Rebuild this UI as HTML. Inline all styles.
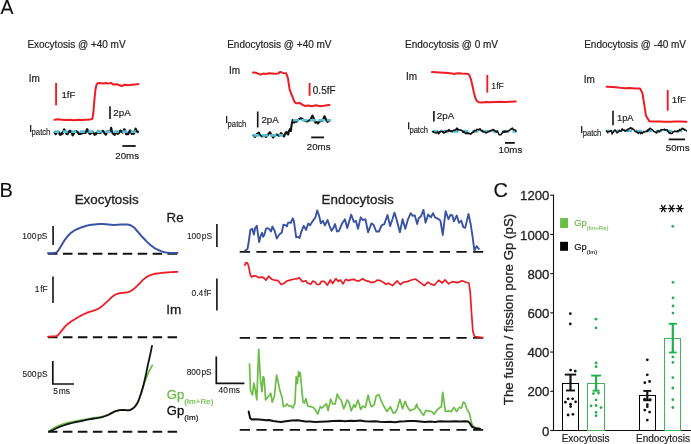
<!DOCTYPE html>
<html><head><meta charset="utf-8"><style>
html,body{margin:0;padding:0;background:#fff;}
svg{display:block;will-change:transform;font-family:"Liberation Sans", sans-serif;}
</style></head><body>
<svg width="691" height="444" viewBox="0 0 691 444">
<text x="0.46" y="14.20" font-size="19.5" fill="#111"  stroke="#111" stroke-width="0.12">A</text>
<text x="27.38" y="47.80" font-size="10" fill="#222"  stroke="#222" stroke-width="0.18">Exocytosis @ +40 mV</text>
<text x="227.18" y="47.80" font-size="10" fill="#222"  stroke="#222" stroke-width="0.18">Endocytosis @ +40 mV</text>
<text x="405.08" y="47.80" font-size="10" fill="#222"  stroke="#222" stroke-width="0.18">Endocytosis @ 0 mV</text>
<text x="584.18" y="47.80" font-size="10" fill="#222"  stroke="#222" stroke-width="0.18">Endocytosis @ -40 mV</text>
<text x="28.78" y="82.20" font-size="10" fill="#222"  stroke="#222" stroke-width="0.18">Im</text>
<line x1="56.1" y1="83" x2="56.1" y2="105.3" stroke="#ed1c24" stroke-width="1.9" />
<text x="61.46" y="97.80" font-size="9.7" fill="#222"  stroke="#222" stroke-width="0.18">1fF</text>
<polyline points="54.50,119.80 58.00,119.30 62.00,119.70 66.00,120.10 70.00,119.80 74.00,120.20 78.00,119.80 82.00,120.10 86.00,119.70 90.00,119.60 92.40,118.80 93.40,112.00 94.40,100.00 95.40,90.00 96.40,85.00 97.60,83.20 100.00,82.90 103.00,83.40 106.00,83.00 108.00,83.60 111.00,82.90 113.30,84.60 117.50,84.30 121.50,86.00 125.00,84.70 128.00,85.30 132.00,84.80 135.00,84.40 138.40,84.10" fill="none" stroke="#ed1c24" stroke-width="2.0" stroke-linejoin="round" stroke-linecap="round" />
<line x1="110" y1="106.2" x2="110" y2="119" stroke="#111" stroke-width="1.6" />
<text x="113.31" y="116.00" font-size="9.8" fill="#222"  stroke="#222" stroke-width="0.18">2pA</text>
<rect x="30" y="125.00" width="1.3" height="7" fill="#222"/>
<text transform="translate(31.60,135.2) scale(0.800,1)" font-size="9.6" fill="#222" stroke="#222" stroke-width="0.18">patch</text>
<polyline points="54.60,132.52 55.10,133.38 55.60,134.13 56.10,133.77 56.60,132.53 57.10,132.13 57.60,131.68 58.10,131.70 58.60,131.72 59.10,132.38 59.60,134.16 60.10,134.78 60.60,134.83 61.10,134.27 61.60,133.28 62.10,132.58 62.60,133.73 63.10,131.92 63.60,130.52 64.10,129.32 64.60,129.60 65.10,130.82 65.60,131.85 66.10,133.12 66.60,133.78 67.10,134.21 67.60,134.16 68.10,133.53 68.60,131.89 69.10,132.00 69.60,130.85 70.10,130.95 70.60,130.88 71.10,132.01 71.60,132.61 72.10,133.55 72.60,135.45 73.10,134.62 73.60,134.32 74.10,132.98 74.60,132.37 75.10,131.96 75.60,131.21 76.10,131.05 76.60,131.49 77.10,131.47 77.60,132.52 78.10,132.43 78.60,133.81 79.10,133.37 79.60,133.99 80.10,133.96 80.60,134.02 81.10,133.12 81.60,133.35 82.10,132.70 82.60,133.19 83.10,133.06 83.60,132.80 84.10,132.31 84.60,132.86 85.10,132.89 85.60,132.99 86.10,131.15 86.60,130.26 87.10,129.21 87.60,129.77 88.10,131.00 88.60,132.45 89.10,133.35 89.60,133.44 90.10,133.87 90.60,133.57 91.10,133.24 91.60,132.28 92.10,131.60 92.60,131.94 93.10,132.56 93.60,133.17 94.10,133.91 94.60,134.78 95.10,134.20 95.60,133.44 96.10,134.16 96.60,133.02 97.10,132.45 97.60,132.01 98.10,130.87 98.60,132.61 99.10,133.12 99.60,132.85 100.10,133.06 100.60,132.80 101.10,132.12 101.60,131.61 102.10,131.18 102.60,130.90 103.10,130.98 103.60,131.37 104.10,132.79 104.60,133.12 105.10,134.02 105.60,134.73 106.10,134.45 106.60,132.77 107.10,131.97 107.60,131.59 108.10,131.15 108.60,132.15 109.10,131.67 109.60,131.90 110.10,131.35 110.60,130.00 111.10,127.83 111.60,129.60 112.10,131.94 112.60,133.21 113.10,133.60 113.60,134.01 114.10,134.56 114.60,134.87 115.10,133.48 115.60,132.22 116.10,132.20 116.60,132.28 117.10,133.70 117.60,133.48 118.10,133.64 118.60,133.34 119.10,132.89 119.60,131.77 120.10,130.88 120.60,130.42 121.10,131.22 121.60,131.92 122.10,132.23 122.60,132.53 123.10,131.19 123.60,130.53 124.10,129.25 124.60,129.22 125.10,130.66 125.60,132.35 126.10,134.11 126.60,134.00 127.10,134.21 127.60,133.26 128.10,134.02 128.60,133.48 129.10,131.90 129.60,131.02 130.10,130.28 130.60,131.28 131.10,132.12 131.60,133.89 132.10,133.83 132.60,133.51 133.10,132.77 133.60,133.89 134.10,133.46 134.60,131.34 135.10,130.38 135.60,128.52 136.10,129.91 136.60,130.66 137.10,131.47 137.60,132.21 138.10,131.66" fill="none" stroke="#111" stroke-width="2.1" stroke-linejoin="round" stroke-linecap="round" />
<line x1="54.3" y1="131.6" x2="138.3" y2="131.6" stroke="#4fc3dc" stroke-width="2.6" stroke-dasharray="5 3.5"/>
<line x1="122.4" y1="146" x2="135.7" y2="146" stroke="#111" stroke-width="1.8" />
<text x="115.31" y="159.40" font-size="9.7" fill="#222"  stroke="#222" stroke-width="0.18">20ms</text>
<text x="228.98" y="73.50" font-size="10" fill="#222"  stroke="#222" stroke-width="0.18">Im</text>
<polyline points="253.00,72.60 256.00,72.80 258.00,73.60 260.50,74.60 263.00,73.60 266.00,74.00 269.00,73.20 272.00,73.50 275.00,73.80 278.00,73.60 280.20,71.90 283.00,72.90 286.20,73.30 287.90,78.00 289.60,89.30 291.30,93.80 294.60,102.20 296.30,103.30 299.70,102.90 302.00,104.50 304.80,105.90 308.00,105.50 312.00,106.20 316.00,105.30 320.00,106.30 324.00,105.80 327.00,105.30 329.50,105.00" fill="none" stroke="#ed1c24" stroke-width="2.0" stroke-linejoin="round" stroke-linecap="round" />
<line x1="309.6" y1="83" x2="309.6" y2="95.8" stroke="#ed1c24" stroke-width="1.9" />
<text x="312.81" y="93.80" font-size="10" fill="#222"  stroke="#222" stroke-width="0.18">0.5fF</text>
<rect x="226" y="116.10" width="1.3" height="7" fill="#222"/>
<text transform="translate(227.60,126.6) scale(0.800,1)" font-size="9.6" fill="#222" stroke="#222" stroke-width="0.18">patch</text>
<line x1="257.7" y1="111.5" x2="257.7" y2="127.5" stroke="#111" stroke-width="1.6" />
<text x="261.41" y="122.80" font-size="9.8" fill="#222"  stroke="#222" stroke-width="0.18">2pA</text>
<polyline points="253.50,135.50 255.00,137.00 256.50,134.50 258.80,132.50 260.00,135.00 262.00,136.50 264.00,135.50 266.00,137.00 268.00,134.50 270.00,132.20 271.50,135.00 273.00,137.50 275.00,135.50 277.00,134.50 279.00,136.00 281.00,133.00 282.50,135.00 284.00,136.50 285.50,133.00 286.50,131.80 287.30,133.50 288.20,134.50 289.00,131.00 290.00,129.00 290.80,131.00 291.60,125.00 292.60,120.00 293.40,121.00 294.20,122.60 295.20,121.50 296.50,121.80 298.00,120.00 299.50,118.80 301.00,118.20 302.50,119.00 304.00,120.20 305.50,121.00 307.00,121.50 309.00,120.50 310.50,119.50 311.70,117.00 312.50,115.60 313.50,118.00 314.50,121.00 315.50,122.70 317.00,122.00 318.00,123.40 319.50,121.50 321.00,121.00 322.50,120.50 323.50,118.50 324.50,116.30 325.50,118.50 326.50,120.50 327.50,122.00 328.50,121.00 330.00,120.50" fill="none" stroke="#111" stroke-width="2.1" stroke-linejoin="round" stroke-linecap="round" />
<line x1="253.3" y1="135.4" x2="283" y2="135.4" stroke="#4fc3dc" stroke-width="2.6" stroke-dasharray="6 2.5"/>
<line x1="293" y1="120.2" x2="331" y2="120.2" stroke="#4fc3dc" stroke-width="2.6" stroke-dasharray="6 2.5"/>
<line x1="311.2" y1="137.4" x2="324" y2="137.4" stroke="#111" stroke-width="1.8" />
<text x="306.81" y="150.40" font-size="9.7" fill="#222"  stroke="#222" stroke-width="0.18">20ms</text>
<text x="406.08" y="79.70" font-size="10" fill="#222"  stroke="#222" stroke-width="0.18">Im</text>
<polyline points="432.00,72.10 436.00,72.30 440.00,72.50 444.00,72.70 448.00,73.00 452.00,73.40 454.00,74.00 456.00,73.60 458.50,73.30 462.00,73.60 466.00,73.70 468.40,74.00 469.80,76.00 471.00,79.50 472.50,86.00 474.00,93.00 475.50,98.50 477.00,101.00 478.60,102.20 482.00,102.40 486.00,102.10 490.00,102.30 495.00,102.00 500.00,101.80 505.00,102.10 510.00,101.70 515.70,101.60" fill="none" stroke="#ed1c24" stroke-width="2.0" stroke-linejoin="round" stroke-linecap="round" />
<line x1="487.3" y1="74.9" x2="487.3" y2="92.6" stroke="#ed1c24" stroke-width="1.9" />
<text x="491.34" y="88.70" font-size="8.7" fill="#222"  stroke="#222" stroke-width="0.12">1fF</text>
<rect x="408" y="122.30" width="1.3" height="7" fill="#222"/>
<text transform="translate(409.41,132.7) scale(0.791,1)" font-size="9.6" fill="#222" stroke="#222" stroke-width="0.18">patch</text>
<line x1="433.9" y1="110.9" x2="433.9" y2="121.6" stroke="#111" stroke-width="1.6" />
<text x="436.81" y="119.20" font-size="9.8" fill="#222"  stroke="#222" stroke-width="0.18">2pA</text>
<line x1="432.4" y1="131.4" x2="516.3" y2="131.4" stroke="#4fc3dc" stroke-width="2.6" stroke-dasharray="6 4"/>
<polyline points="432.50,131.72 433.00,131.84 433.50,131.51 434.00,132.48 434.50,132.63 435.00,132.75 435.50,132.60 436.00,133.07 436.50,132.78 437.00,132.70 437.50,131.91 438.00,131.95 438.50,133.97 439.00,133.63 439.50,131.63 440.00,132.44 440.50,131.61 441.00,131.11 441.50,131.50 442.00,131.31 442.50,131.86 443.00,132.56 443.50,131.82 444.00,133.13 444.50,132.68 445.00,132.56 445.50,131.50 446.00,131.11 446.50,131.87 447.00,130.89 447.50,130.46 448.00,130.67 448.50,131.21 449.00,129.59 449.50,130.97 450.00,130.96 450.50,131.34 451.00,130.62 451.50,131.04 452.00,131.81 452.50,131.18 453.00,130.60 453.50,130.37 454.00,130.10 454.50,130.49 455.00,130.20 455.50,129.57 456.00,129.72 456.50,128.65 457.00,128.01 457.50,129.73 458.00,128.97 458.50,129.98 459.00,129.70 459.50,129.73 460.00,130.26 460.50,129.93 461.00,129.98 461.50,130.47 462.00,130.72 462.50,131.51 463.00,132.54 463.50,131.57 464.00,131.55 464.50,132.51 465.00,132.89 465.50,133.46 466.00,132.88 466.50,133.44 467.00,133.44 467.50,132.77 468.00,133.60 468.50,132.94 469.00,133.70 469.50,133.40 470.00,133.29 470.50,134.23 471.00,134.09 471.50,133.34 472.00,132.91 472.50,132.05 473.00,132.55 473.50,132.26 474.00,131.27 474.50,130.37 475.00,130.70 475.50,130.55 476.00,130.78 476.50,129.74 477.00,129.26 477.50,129.56 478.00,129.39 478.50,129.71 479.00,129.97 479.50,129.29 480.00,128.64 480.50,129.94 481.00,130.33 481.50,131.18 482.00,130.19 482.50,131.17 483.00,131.68 483.50,131.59 484.00,132.11 484.50,132.12 485.00,132.19 485.50,132.72 486.00,132.88 486.50,132.84 487.00,132.35 487.50,131.97 488.00,131.94 488.50,131.70 489.00,131.01 489.50,131.23 490.00,131.49 490.50,130.89 491.00,130.28 491.50,130.80 492.00,130.29 492.50,129.71 493.00,130.09 493.50,129.63 494.00,130.38 494.50,130.33 495.00,130.75 495.50,131.59 496.00,132.09 496.50,131.90 497.00,131.00 497.50,131.81 498.00,132.07 498.50,133.47 499.00,134.56 499.50,134.75 500.00,134.88 500.50,134.82 501.00,134.60 501.50,133.59 502.00,133.41 502.50,132.42 503.00,131.46 503.50,131.66 504.00,132.44 504.50,131.84 505.00,130.85 505.50,131.92 506.00,131.75 506.50,131.74 507.00,131.15 507.50,131.31 508.00,131.79 508.50,130.73 509.00,130.85 509.50,130.50 510.00,129.53 510.50,129.42 511.00,129.33 511.50,128.42 512.00,128.97 512.50,128.14 513.00,129.14 513.50,129.54 514.00,129.80 514.50,129.73 515.00,130.11 515.50,129.97 516.00,131.38" fill="none" stroke="#111" stroke-width="1.5" stroke-linejoin="round" stroke-linecap="round" />
<line x1="505" y1="142.9" x2="514.8" y2="142.9" stroke="#111" stroke-width="1.8" />
<text x="498.56" y="152.70" font-size="9.7" fill="#222"  stroke="#222" stroke-width="0.18">10ms</text>
<text x="583.68" y="83.00" font-size="10" fill="#222"  stroke="#222" stroke-width="0.18">Im</text>
<polyline points="606.70,86.70 612.00,86.90 616.00,87.20 620.00,87.80 625.00,88.20 630.00,88.00 635.00,88.40 640.00,88.40 642.50,93.40 645.90,115.40 649.30,121.30 655.00,121.40 660.00,121.50 665.00,121.70 670.00,121.80 675.00,121.50 680.00,121.40 686.50,121.80" fill="none" stroke="#ed1c24" stroke-width="2.0" stroke-linejoin="round" stroke-linecap="round" />
<line x1="667.7" y1="90" x2="667.7" y2="110.7" stroke="#ed1c24" stroke-width="1.9" />
<text x="671.86" y="103.20" font-size="9.7" fill="#222"  stroke="#222" stroke-width="0.18">1fF</text>
<rect x="581" y="126.10" width="1.3" height="7" fill="#222"/>
<text transform="translate(582.71,135.9) scale(0.791,1)" font-size="9.6" fill="#222" stroke="#222" stroke-width="0.18">patch</text>
<line x1="613" y1="110.7" x2="613" y2="125.2" stroke="#111" stroke-width="1.6" />
<text x="616.99" y="121.30" font-size="9.3" fill="#222"  stroke="#222" stroke-width="0.18">1pA</text>
<line x1="606.2" y1="131" x2="686.5" y2="131" stroke="#4fc3dc" stroke-width="2.6" stroke-dasharray="6 4"/>
<polyline points="606.40,130.76 606.88,131.39 607.36,132.06 607.84,132.79 608.32,131.67 608.80,131.59 609.27,131.37 609.75,131.42 610.23,131.36 610.71,130.70 611.19,131.14 611.67,130.92 612.15,134.02 612.63,133.02 613.11,132.52 613.59,131.85 614.06,130.95 614.54,130.24 615.02,130.09 615.50,130.15 615.98,131.73 616.46,132.10 616.94,132.96 617.42,132.55 617.90,132.24 618.38,131.51 618.86,131.19 619.33,130.24 619.81,130.90 620.29,130.94 620.77,131.05 621.25,131.01 621.73,129.84 622.21,128.77 622.69,130.01 623.17,130.29 623.65,129.88 624.12,129.84 624.60,130.68 625.08,131.42 625.56,130.97 626.04,130.19 626.52,130.51 627.00,130.60 627.48,129.40 627.96,129.75 628.44,128.87 628.91,128.78 629.39,128.75 629.87,128.44 630.35,127.66 630.83,128.40 631.31,128.00 631.79,129.05 632.27,128.37 632.75,128.97 633.23,129.33 633.71,129.52 634.18,130.18 634.66,130.60 635.14,131.65 635.62,131.54 636.10,131.98 636.58,131.25 637.06,132.21 637.54,132.62 638.02,133.15 638.50,133.48 638.97,132.61 639.45,132.21 639.93,132.43 640.41,132.63 640.89,133.69 641.37,132.44 641.85,132.87 642.33,133.35 642.81,132.81 643.29,131.84 643.77,131.60 644.24,132.04 644.72,132.13 645.20,131.57 645.68,131.44 646.16,131.73 646.64,130.84 647.12,131.48 647.60,130.10 648.08,130.78 648.56,129.22 649.03,129.81 649.51,129.22 649.99,128.17 650.47,128.55 650.95,128.95 651.43,129.31 651.91,129.51 652.39,129.80 652.87,130.16 653.35,130.71 653.83,131.58 654.30,131.60 654.78,131.78 655.26,131.65 655.74,132.22 656.22,132.92 656.70,133.07 657.18,131.49 657.66,131.07 658.14,130.79 658.62,130.95 659.09,132.01 659.57,131.17 660.05,130.99 660.53,130.68 661.01,129.68 661.49,129.60 661.97,129.74 662.45,129.65 662.93,129.81 663.41,129.74 663.89,129.79 664.36,129.12 664.84,130.15 665.32,130.30 665.80,129.87 666.28,129.97 666.76,130.01 667.24,129.74 667.72,131.11 668.20,131.26 668.68,132.30 669.15,133.19 669.63,132.44 670.11,132.56 670.59,133.62 671.07,133.58 671.55,133.44 672.03,133.25 672.51,133.16 672.99,131.83 673.47,131.71 673.94,131.96 674.42,131.20 674.90,130.99 675.38,131.29 675.86,131.64 676.34,131.74 676.82,131.46 677.30,131.82 677.78,130.76 678.26,131.39 678.74,130.99 679.21,130.28 679.69,129.33 680.17,130.21 680.65,129.63 681.13,129.31 681.61,129.43 682.09,128.34 682.57,128.43 683.05,128.57 683.53,129.20 684.00,129.08 684.48,130.08 684.96,129.61 685.44,130.08 685.92,130.38 686.40,130.74" fill="none" stroke="#111" stroke-width="1.5" stroke-linejoin="round" stroke-linecap="round" />
<line x1="668.7" y1="139.4" x2="685.1" y2="139.4" stroke="#111" stroke-width="1.8" />
<text x="665.81" y="150.50" font-size="9.7" fill="#222"  stroke="#222" stroke-width="0.18">50ms</text>
<text x="-0.44" y="197.40" font-size="20" fill="#111"  stroke="#111" stroke-width="0.12">B</text>
<text x="74.70" y="203.90" font-size="13.4" fill="#222"  stroke="#222" stroke-width="0.3">Exocytosis</text>
<text x="321.60" y="203.50" font-size="13.4" fill="#222"  stroke="#222" stroke-width="0.3">Endocytosis</text>
<text x="166.61" y="221.90" font-size="13.3" fill="#222"  stroke="#222" stroke-width="0.3">Re</text>
<text x="166.34" y="313.90" font-size="13.6" fill="#222"  stroke="#222" stroke-width="0.3">Im</text>
<text x="22.36" y="238.7" font-size="8.4" fill="#222" stroke="#222" stroke-width="0.12">100<tspan dx="-1.5"> pS</tspan></text>
<line x1="53.1" y1="226.1" x2="53.1" y2="244.9" stroke="#111" stroke-width="1.6" />
<line x1="48" y1="253.7" x2="178" y2="253.7" stroke="#111" stroke-width="1.9" stroke-dasharray="9.5 5.449999999999999"/>
<polyline points="48.00,253.20 49.15,253.18 50.81,253.16 52.57,253.11 54.00,253.00 54.96,252.88 55.69,252.75 56.32,252.49 57.00,252.00 57.75,251.19 58.50,250.15 59.25,248.98 60.00,247.80 60.76,246.58 61.52,245.29 62.28,244.00 63.00,242.80 63.64,241.75 64.21,240.80 64.83,239.85 65.60,238.80 66.57,237.58 67.68,236.26 68.85,234.95 70.00,233.80 71.12,232.83 72.26,231.96 73.39,231.19 74.50,230.50 75.52,229.92 76.49,229.44 77.51,228.99 78.70,228.50 80.16,227.92 81.80,227.30 83.47,226.70 85.00,226.20 86.34,225.81 87.58,225.49 88.78,225.23 90.00,225.00 91.25,224.80 92.50,224.65 93.75,224.52 95.00,224.40 96.25,224.27 97.50,224.15 98.75,224.05 100.00,224.00 101.25,224.00 102.50,224.04 103.75,224.11 105.00,224.20 106.26,224.31 107.53,224.45 108.79,224.59 110.00,224.70 111.14,224.78 112.22,224.85 113.32,224.89 114.50,224.90 115.79,224.86 117.16,224.77 118.57,224.68 120.00,224.60 121.54,224.53 123.16,224.46 124.70,224.41 126.00,224.40 126.97,224.44 127.72,224.53 128.36,224.64 129.00,224.80 129.65,224.98 130.25,225.19 130.85,225.45 131.50,225.80 132.21,226.24 132.96,226.74 133.73,227.33 134.50,228.00 135.24,228.75 135.96,229.57 136.73,230.48 137.60,231.50 138.61,232.68 139.72,233.99 140.88,235.33 142.00,236.60 143.08,237.78 144.16,238.93 145.23,240.03 146.30,241.10 147.35,242.13 148.39,243.12 149.43,244.08 150.50,245.00 151.60,245.89 152.73,246.76 153.87,247.57 155.00,248.30 156.13,248.94 157.27,249.51 158.40,250.03 159.50,250.50 160.55,250.94 161.55,251.34 162.58,251.69 163.70,252.00 164.88,252.26 166.09,252.47 167.43,252.65 169.00,252.80 171.08,252.92 173.53,253.00 175.82,253.06 177.40,253.10" fill="none" stroke="#3953a5" stroke-width="2.0" stroke-linejoin="round" stroke-linecap="round" />
<text x="34.66" y="291.5" font-size="8.4" fill="#222" stroke="#222" stroke-width="0.12">1<tspan dx="-1.5"> fF</tspan></text>
<line x1="53" y1="276.5" x2="53" y2="303" stroke="#111" stroke-width="1.6" />
<line x1="48" y1="337.3" x2="178" y2="337.3" stroke="#111" stroke-width="1.9" stroke-dasharray="9.5 5.449999999999999"/>
<polyline points="48.00,336.60 49.46,336.55 51.59,336.48 53.80,336.37 55.50,336.20 56.46,336.01 57.03,335.79 57.46,335.48 58.00,335.00 58.71,334.29 59.47,333.41 60.24,332.44 61.00,331.50 61.75,330.58 62.50,329.63 63.25,328.69 64.00,327.80 64.74,326.95 65.47,326.13 66.21,325.35 67.00,324.60 67.83,323.91 68.69,323.26 69.58,322.64 70.50,322.00 71.46,321.35 72.47,320.69 73.49,320.04 74.50,319.40 75.50,318.78 76.49,318.17 77.49,317.58 78.50,317.00 79.49,316.44 80.46,315.90 81.48,315.36 82.60,314.80 83.84,314.20 85.16,313.59 86.55,312.98 88.00,312.40 89.55,311.89 91.19,311.42 92.83,310.94 94.40,310.40 95.88,309.80 97.32,309.16 98.70,308.46 100.00,307.70 101.23,306.83 102.38,305.88 103.47,304.91 104.50,304.00 105.46,303.16 106.34,302.36 107.18,301.57 108.00,300.80 108.78,300.03 109.51,299.26 110.23,298.52 111.00,297.80 111.82,297.10 112.66,296.41 113.53,295.77 114.40,295.20 115.29,294.71 116.19,294.27 117.10,293.91 118.00,293.60 118.90,293.38 119.81,293.22 120.71,293.11 121.60,293.00 122.45,292.89 123.29,292.80 124.13,292.71 125.00,292.60 125.94,292.49 126.91,292.39 127.88,292.24 128.80,292.00 129.62,291.67 130.39,291.26 131.16,290.78 132.00,290.20 132.93,289.53 133.92,288.77 134.95,287.93 136.00,287.00 137.09,285.94 138.22,284.76 139.36,283.55 140.50,282.40 141.61,281.29 142.72,280.19 143.84,279.15 145.00,278.20 146.24,277.35 147.53,276.57 148.81,275.88 150.00,275.30 151.02,274.85 151.94,274.53 152.88,274.26 154.00,274.00 155.39,273.74 156.94,273.50 158.53,273.29 160.00,273.10 161.30,272.94 162.51,272.82 163.69,272.71 164.90,272.60 166.10,272.49 167.29,272.39 168.55,272.29 170.00,272.20 171.88,272.11 174.07,272.02 176.10,271.95 177.50,271.90" fill="none" stroke="#ed1c24" stroke-width="1.8" stroke-linejoin="round" stroke-linecap="round" />
<text x="22.56" y="377.3" font-size="8.4" fill="#222" stroke="#222" stroke-width="0.12">500<tspan dx="-1.5"> pS</tspan></text>
<polyline points="52.8,361.1 52.8,384 74,384" fill="none" stroke="#111" stroke-width="1.7"/>
<text x="53.36" y="393.5" font-size="8.4" fill="#222" stroke="#222" stroke-width="0.12">5<tspan dx="-1.5"> ms</tspan></text>
<line x1="48" y1="431.8" x2="178" y2="431.8" stroke="#111" stroke-width="1.9" stroke-dasharray="9.5 5.449999999999999"/>
<polyline points="49.40,430.80 50.04,430.45 50.95,429.94 51.99,429.36 53.00,428.80 53.93,428.27 54.85,427.73 55.85,427.17 57.00,426.60 58.29,426.01 59.69,425.41 61.24,424.80 63.00,424.20 65.01,423.59 67.24,422.96 69.60,422.36 72.00,421.80 74.52,421.30 77.18,420.84 79.79,420.41 82.20,420.00 84.25,419.63 86.06,419.30 87.89,418.97 90.00,418.60 92.60,418.18 95.49,417.74 98.37,417.27 100.90,416.80 102.94,416.35 104.69,415.90 106.32,415.40 108.00,414.80 109.76,414.00 111.51,413.06 113.25,412.14 115.00,411.40 116.75,410.87 118.50,410.48 120.25,410.20 122.00,410.00 123.80,409.98 125.64,410.13 127.41,410.23 129.00,410.10 130.38,409.66 131.61,409.03 132.71,408.28 133.70,407.50 134.55,406.68 135.27,405.79 135.91,404.88 136.50,404.00 137.03,403.23 137.48,402.53 137.92,401.74 138.40,400.70 138.95,399.33 139.52,397.73 140.12,396.01 140.70,394.30 141.27,392.60 141.84,390.86 142.41,389.09 143.00,387.30 143.62,385.45 144.26,383.56 144.89,381.71 145.50,380.00 146.07,378.49 146.61,377.11 147.15,375.80 147.70,374.50 148.27,373.19 148.85,371.91 149.43,370.67 150.00,369.50 150.61,368.34 151.24,367.19 151.81,366.20 152.20,365.50" fill="none" stroke="#6abd45" stroke-width="1.8" stroke-linejoin="round" stroke-linecap="round" />
<polyline points="49.40,431.30 50.04,431.08 50.95,430.78 51.99,430.40 53.00,430.00 53.92,429.56 54.83,429.07 55.82,428.55 57.00,428.00 58.38,427.41 59.91,426.78 61.59,426.14 63.40,425.50 65.36,424.87 67.46,424.23 69.69,423.60 72.00,423.00 74.49,422.41 77.15,421.84 79.78,421.30 82.20,420.80 84.25,420.36 86.06,419.98 87.89,419.61 90.00,419.20 92.60,418.76 95.49,418.29 98.37,417.81 100.90,417.30 102.94,416.78 104.69,416.26 106.32,415.68 108.00,415.00 109.76,414.14 111.51,413.14 113.25,412.18 115.00,411.40 116.75,410.86 118.50,410.46 120.25,410.18 122.00,410.00 123.80,410.02 125.64,410.21 127.41,410.38 129.00,410.30 130.38,409.91 131.61,409.33 132.71,408.63 133.70,407.90 134.55,407.12 135.27,406.27 135.91,405.39 136.50,404.50 137.03,403.68 137.48,402.89 137.92,402.00 138.40,400.90 138.95,399.53 139.52,397.96 140.12,396.26 140.70,394.50 141.27,392.73 141.84,390.89 142.41,388.94 143.00,386.80 143.62,384.42 144.26,381.84 144.89,379.16 145.50,376.50 146.07,373.84 146.61,371.15 147.15,368.46 147.70,365.80 148.27,363.18 148.86,360.58 149.44,358.02 150.00,355.50 150.57,352.83 151.14,350.06 151.65,347.61 152.00,345.90" fill="none" stroke="#111" stroke-width="1.8" stroke-linejoin="round" stroke-linecap="round" />
<text x="166.85" y="398.5" font-size="13" fill="#6abd45" stroke="#6abd45" stroke-width="0.3">Gp<tspan stroke-width="0.2" font-size="8" dy="5.2">(Im+Re)</tspan></text>
<text x="166.85" y="414.5" font-size="13" fill="#111" stroke="#111" stroke-width="0.3">Gp<tspan stroke-width="0.2" font-size="8" dy="5">(Im)</tspan></text>
<text x="186.96" y="239.3" font-size="8.4" fill="#222" stroke="#222" stroke-width="0.12">100<tspan dx="-1.5"> pS</tspan></text>
<line x1="216.9" y1="224.1" x2="216.9" y2="246.9" stroke="#111" stroke-width="1.6" />
<line x1="239.7" y1="251.9" x2="483.2" y2="251.9" stroke="#111" stroke-width="1.9" stroke-dasharray="10.3 6.370000000000001"/>
<polyline points="245.20,250.60 247.50,249.00 248.70,242.00 250.40,229.90 252.20,228.70 253.90,234.50 255.10,228.20 256.80,225.80 259.10,242.00 260.80,235.70 262.00,232.80 263.20,236.80 264.30,235.10 266.00,228.70 267.80,228.20 269.50,229.30 271.00,231.40 272.40,226.40 274.70,231.00 276.80,238.60 278.80,235.10 280.50,233.40 281.70,232.80 283.40,224.70 285.70,225.30 286.90,226.40 288.00,222.90 289.80,222.40 290.90,222.90 292.70,218.30 293.80,220.60 296.20,237.40 297.90,236.80 299.60,238.00 301.40,231.60 303.70,225.80 306.00,229.90 308.30,223.50 310.00,225.30 311.80,222.40 313.50,220.00 315.30,217.70 317.20,210.40 319.20,216.00 320.80,223.40 322.80,220.70 324.90,225.40 327.60,220.00 329.60,226.10 331.60,230.80 333.60,227.40 335.00,224.10 337.00,231.50 339.00,230.80 341.80,224.10 344.90,219.30 347.20,228.10 349.20,221.40 351.20,214.60 353.90,222.00 355.90,220.70 358.00,228.80 360.70,217.30 362.70,220.00 365.40,219.30 368.10,232.20 371.50,223.40 373.50,224.70 376.20,231.50 378.90,231.50 381.60,225.40 384.30,224.10 387.50,215.00 390.10,226.10 392.40,219.30 394.50,212.60 396.50,219.30 399.90,232.20 402.60,219.30 405.30,228.80 408.00,219.30 410.70,213.20 412.70,215.90 414.70,215.30 417.20,224.10 418.80,218.00 420.80,216.60 423.50,209.90 425.50,222.70 428.20,214.60 430.90,217.30 433.00,213.20 435.00,217.30 437.70,218.60 439.70,220.00 440.50,221.00 442.80,235.00 445.60,211.10 448.50,219.20 450.50,214.80 452.40,215.50 453.90,221.40 456.80,215.50 459.00,222.80 461.20,220.60 463.40,227.20 465.20,227.90 468.50,214.00 470.70,224.30 472.50,236.00 474.40,250.60 476.60,246.20 478.80,248.90" fill="none" stroke="#3953a5" stroke-width="1.9" stroke-linejoin="round" stroke-linecap="round" />
<text x="191.57" y="296.2" font-size="8.4" fill="#222" stroke="#222" stroke-width="0.12">0.4<tspan dx="-1.5"> fF</tspan></text>
<line x1="216.9" y1="278.4" x2="216.9" y2="310.4" stroke="#111" stroke-width="1.6" />
<line x1="239.7" y1="337.9" x2="483.2" y2="337.9" stroke="#111" stroke-width="1.9" stroke-dasharray="10.3 6.370000000000001"/>
<polyline points="244.90,265.20 245.80,262.90 247.50,262.90 248.70,266.60 250.20,274.70 251.60,277.20 253.30,275.80 256.20,276.20 258.50,277.60 260.30,277.20 263.20,277.30 266.00,280.20 268.70,276.20 271.80,279.30 274.70,280.20 278.20,280.70 281.10,284.50 284.00,283.40 286.90,281.00 290.90,279.90 294.40,279.00 297.30,278.70 299.00,277.60 302.50,281.60 306.00,280.70 307.10,282.80 310.60,284.20 312.90,281.00 315.00,282.00 317.00,284.50 319.60,284.50 321.30,281.30 324.10,281.30 327.40,285.20 330.40,280.00 332.60,283.50 335.80,278.70 338.40,281.30 340.40,280.00 343.00,283.90 345.60,279.30 348.20,280.60 351.50,279.60 354.10,279.30 356.70,280.90 359.30,280.90 362.50,278.70 366.40,280.90 369.00,281.30 371.00,282.60 374.90,281.90 377.50,280.00 380.10,280.60 382.70,281.90 386.00,284.30 388.60,283.20 392.50,285.60 397.10,280.90 400.30,284.50 403.60,282.10 407.20,281.60 410.80,280.30 415.30,279.00 419.80,282.10 424.30,285.70 427.90,282.10 430.60,283.90 434.20,285.20 438.70,280.30 442.30,283.00 445.00,279.80 448.60,283.90 452.20,281.60 457.60,282.60 462.10,280.80 466.60,282.50 468.90,283.00 470.20,292.00 471.60,313.60 472.90,331.60 474.70,336.60 478.30,337.00 482.80,337.60" fill="none" stroke="#ed1c24" stroke-width="1.7" stroke-linejoin="round" stroke-linecap="round" />
<text x="186.63" y="375.2" font-size="8.4" fill="#222" stroke="#222" stroke-width="0.12">800<tspan dx="-1.5"> pS</tspan></text>
<polyline points="216.3,356.4 216.3,383.4 244.4,383.4" fill="none" stroke="#111" stroke-width="1.7"/>
<text x="218.51" y="392.7" font-size="8.4" fill="#222" stroke="#222" stroke-width="0.12">40<tspan dx="-1.5"> ms</tspan></text>
<line x1="239.7" y1="429.9" x2="483.2" y2="429.9" stroke="#111" stroke-width="1.9" stroke-dasharray="10.3 6.370000000000001"/>
<polyline points="249.50,364.00 250.50,390.40 252.40,394.80 253.90,383.10 255.10,388.90 256.80,399.90 258.70,349.40 260.50,380.10 262.00,391.80 263.10,376.50 264.20,378.70 265.60,399.90 267.80,397.00 269.30,395.50 270.70,393.30 272.20,402.10 274.40,396.20 276.60,375.00 278.10,381.60 279.50,388.90 281.00,394.50 282.00,397.20 283.40,406.60 285.40,406.00 286.80,403.90 288.80,406.00 290.80,405.70 292.80,408.00 294.90,403.20 296.20,376.90 297.30,383.60 298.60,371.50 299.60,376.20 300.30,372.80 301.60,387.00 303.00,401.90 304.30,403.20 305.90,398.50 307.70,406.00 310.40,406.60 313.10,407.30 315.10,409.30 317.80,414.10 320.30,406.60 321.90,408.00 324.60,405.30 326.60,403.90 328.00,410.70 330.70,399.20 332.70,403.90 335.20,403.80 337.20,394.20 339.10,398.00 341.10,400.00 343.80,408.80 347.20,400.00 349.20,402.70 351.20,410.80 353.90,404.70 355.30,407.40 358.00,400.00 360.70,409.50 362.70,406.10 365.40,407.40 368.10,395.00 369.50,401.40 371.50,406.80 374.20,404.70 376.20,395.90 378.90,394.60 380.90,400.00 383.00,404.70 387.00,411.50 390.40,406.80 393.10,412.80 395.10,412.80 397.20,408.80 399.90,399.30 402.60,408.80 405.00,401.40 407.30,406.80 410.00,410.80 412.70,409.50 414.70,408.80 416.80,404.10 417.40,407.40 419.50,409.50 421.50,412.80 423.50,415.30 425.90,410.40 428.90,411.20 431.60,411.50 434.10,414.20 436.40,410.80 439.10,408.10 441.40,406.80 442.70,392.30 444.10,402.00 445.40,411.50 448.50,410.80 451.20,411.80 453.90,407.40 456.60,411.50 459.30,407.40 461.40,408.10 463.40,402.00 464.70,402.70 466.80,408.80 469.50,413.50 471.50,423.00 473.50,427.00 476.20,427.70 478.90,428.10" fill="none" stroke="#6abd45" stroke-width="1.7" stroke-linejoin="round" stroke-linecap="round" />
<polyline points="248.70,411.60 250.10,418.10 251.60,419.50 255.00,419.30 258.80,419.60 262.00,419.80 266.00,420.30 268.90,420.00 273.30,421.00 277.00,421.60 281.20,422.10 284.00,421.60 287.80,421.00 292.00,420.60 297.90,420.20 301.00,420.80 305.10,421.40 310.00,421.60 315.30,422.00 320.00,421.70 326.80,421.40 333.00,421.00 339.90,420.70 345.00,421.30 350.00,420.70 355.00,421.10 360.00,420.60 365.00,421.30 370.00,421.50 375.00,421.20 380.00,421.80 385.00,422.00 390.00,421.70 395.00,422.20 400.00,421.40 405.00,421.30 410.00,421.00 415.00,421.10 420.00,421.60 425.00,422.00 430.00,421.50 435.00,421.90 440.00,421.20 445.00,421.60 450.00,421.60 455.00,421.30 460.00,421.40 465.00,421.20 468.10,421.40 470.10,423.60 472.20,427.00 476.20,428.40 480.00,428.80" fill="none" stroke="#111" stroke-width="2.0" stroke-linejoin="round" stroke-linecap="round" />
<text x="493.48" y="197.40" font-size="20" fill="#111"  stroke="#111" stroke-width="0.12">C</text>
<line x1="553.5" y1="194.7" x2="553.5" y2="431" stroke="#111" stroke-width="1.1" />
<line x1="553" y1="430.5" x2="691" y2="430.5" stroke="#111" stroke-width="1.1" />
<line x1="550.3" y1="430.5" x2="553.5" y2="430.5" stroke="#111" stroke-width="1.1" />
<text x="549.42" y="435.60" font-size="13.2" fill="#222" text-anchor="end"  stroke="#222" stroke-width="0.3">0</text>
<line x1="550.3" y1="391.2833333333333" x2="553.5" y2="391.2833333333333" stroke="#111" stroke-width="1.1" />
<text x="549.42" y="396.38" font-size="13.2" fill="#222" text-anchor="end"  stroke="#222" stroke-width="0.3">200</text>
<line x1="550.3" y1="352.06666666666666" x2="553.5" y2="352.06666666666666" stroke="#111" stroke-width="1.1" />
<text x="549.42" y="357.17" font-size="13.2" fill="#222" text-anchor="end"  stroke="#222" stroke-width="0.3">400</text>
<line x1="550.3" y1="312.85" x2="553.5" y2="312.85" stroke="#111" stroke-width="1.1" />
<text x="549.42" y="317.95" font-size="13.2" fill="#222" text-anchor="end"  stroke="#222" stroke-width="0.3">600</text>
<line x1="550.3" y1="273.6333333333333" x2="553.5" y2="273.6333333333333" stroke="#111" stroke-width="1.1" />
<text x="549.42" y="278.73" font-size="13.2" fill="#222" text-anchor="end"  stroke="#222" stroke-width="0.3">800</text>
<line x1="550.3" y1="234.41666666666666" x2="553.5" y2="234.41666666666666" stroke="#111" stroke-width="1.1" />
<text x="549.42" y="239.52" font-size="13.2" fill="#222" text-anchor="end"  stroke="#222" stroke-width="0.3">1000</text>
<line x1="550.3" y1="195.2" x2="553.5" y2="195.2" stroke="#111" stroke-width="1.1" />
<text x="549.42" y="200.30" font-size="13.2" fill="#222" text-anchor="end"  stroke="#222" stroke-width="0.3">1200</text>
<text transform="translate(512.5,404.9) rotate(-90)" x="-0.30" y="0" font-size="13.3" fill="#222" stroke="#222" stroke-width="0.3">The fusion / fission pore Gp (pS)</text>
<rect x="562.5" y="383.5" width="16.0" height="47.0" fill="none" stroke="#000" stroke-width="1"/>
<rect x="587.5" y="383.5" width="17.0" height="47.0" fill="none" stroke="#3db653" stroke-width="1"/>
<rect x="639.5" y="395.5" width="16.0" height="35.0" fill="none" stroke="#000" stroke-width="1"/>
<rect x="664.5" y="338.5" width="16.0" height="92.0" fill="none" stroke="#3db653" stroke-width="1"/>
<line x1="570.5" y1="374.6" x2="570.5" y2="390.5" stroke="#111" stroke-width="2.2" />
<line x1="564.8" y1="374.6" x2="576.2" y2="374.6" stroke="#111" stroke-width="1.9" />
<line x1="566.0" y1="390.5" x2="575.0" y2="390.5" stroke="#111" stroke-width="1.9" />
<line x1="596.1" y1="375.6" x2="596.1" y2="390.7" stroke="#22b04b" stroke-width="2.2" />
<line x1="591.2" y1="375.6" x2="601.0" y2="375.6" stroke="#22b04b" stroke-width="1.9" />
<line x1="592.6" y1="390.7" x2="599.6" y2="390.7" stroke="#22b04b" stroke-width="1.9" />
<line x1="647.3" y1="390.9" x2="647.3" y2="400.3" stroke="#111" stroke-width="2.2" />
<line x1="643.3" y1="390.9" x2="651.3" y2="390.9" stroke="#111" stroke-width="1.9" />
<line x1="643.3" y1="400.3" x2="651.3" y2="400.3" stroke="#111" stroke-width="1.9" />
<line x1="672.8" y1="323.8" x2="672.8" y2="352.5" stroke="#22b04b" stroke-width="2.2" />
<line x1="668.65" y1="323.8" x2="676.9499999999999" y2="323.8" stroke="#22b04b" stroke-width="1.9" />
<line x1="669.0" y1="352.5" x2="676.5999999999999" y2="352.5" stroke="#22b04b" stroke-width="1.9" />
<circle cx="570.3" cy="313.7" r="1.4" fill="#111"/>
<circle cx="570.3" cy="323.9" r="1.4" fill="#111"/>
<circle cx="570.6" cy="370.1" r="1.4" fill="#111"/>
<circle cx="575.3" cy="371.1" r="1.4" fill="#111"/>
<circle cx="568.1" cy="398.8" r="1.4" fill="#111"/>
<circle cx="572.6" cy="398.8" r="1.4" fill="#111"/>
<circle cx="565.4" cy="402.2" r="1.4" fill="#111"/>
<circle cx="575.6" cy="401.8" r="1.4" fill="#111"/>
<circle cx="570.6" cy="404.2" r="1.4" fill="#111"/>
<circle cx="570.6" cy="406.6" r="1.4" fill="#111"/>
<circle cx="568.1" cy="415" r="1.4" fill="#111"/>
<circle cx="572.9" cy="414.3" r="1.4" fill="#111"/>
<circle cx="595.9" cy="319.2" r="1.4" fill="#22b04b"/>
<circle cx="595.9" cy="327.9" r="1.4" fill="#22b04b"/>
<circle cx="596.1" cy="363" r="1.4" fill="#22b04b"/>
<circle cx="596.1" cy="366.7" r="1.4" fill="#22b04b"/>
<circle cx="593.4" cy="393.6" r="1.4" fill="#22b04b"/>
<circle cx="598.5" cy="393.1" r="1.4" fill="#22b04b"/>
<circle cx="596.1" cy="399.9" r="1.4" fill="#22b04b"/>
<circle cx="591.1" cy="405.8" r="1.4" fill="#22b04b"/>
<circle cx="596.1" cy="405.5" r="1.4" fill="#22b04b"/>
<circle cx="601" cy="407.6" r="1.4" fill="#22b04b"/>
<circle cx="596.1" cy="412.3" r="1.4" fill="#22b04b"/>
<circle cx="596.1" cy="415.7" r="1.4" fill="#22b04b"/>
<circle cx="647.3" cy="359.8" r="1.4" fill="#111"/>
<circle cx="647.3" cy="374.8" r="1.4" fill="#111"/>
<circle cx="644.8" cy="382.7" r="1.4" fill="#111"/>
<circle cx="649.6" cy="381.5" r="1.4" fill="#111"/>
<circle cx="647.3" cy="404.6" r="1.4" fill="#111"/>
<circle cx="647.3" cy="406.7" r="1.4" fill="#111"/>
<circle cx="644.6" cy="399.2" r="1.4" fill="#111"/>
<circle cx="650" cy="399.6" r="1.4" fill="#111"/>
<circle cx="644.8" cy="410.1" r="1.4" fill="#111"/>
<circle cx="649.6" cy="412.1" r="1.4" fill="#111"/>
<circle cx="647.3" cy="420.1" r="1.4" fill="#111"/>
<circle cx="672.8" cy="226.3" r="1.4" fill="#22b04b"/>
<circle cx="673" cy="282.3" r="1.4" fill="#22b04b"/>
<circle cx="673" cy="297.9" r="1.4" fill="#22b04b"/>
<circle cx="673" cy="306" r="1.4" fill="#22b04b"/>
<circle cx="673" cy="313.1" r="1.4" fill="#22b04b"/>
<circle cx="672.9" cy="356.9" r="1.4" fill="#22b04b"/>
<circle cx="672.9" cy="362.4" r="1.4" fill="#22b04b"/>
<circle cx="672.8" cy="377.6" r="1.4" fill="#22b04b"/>
<circle cx="672.8" cy="388" r="1.4" fill="#22b04b"/>
<circle cx="672.8" cy="399.7" r="1.4" fill="#22b04b"/>
<circle cx="672.8" cy="407.5" r="1.4" fill="#22b04b"/>
<g stroke="#111" stroke-width="1.25" stroke-linecap="round"><line x1="660.0" y1="208.5" x2="666.5999999999999" y2="208.5"/><line x1="661.5" y1="205.4" x2="665.0999999999999" y2="211.6"/><line x1="665.0999999999999" y1="205.4" x2="661.5" y2="211.6"/></g>
<g stroke="#111" stroke-width="1.25" stroke-linecap="round"><line x1="668.2" y1="208.5" x2="674.8" y2="208.5"/><line x1="669.7" y1="205.4" x2="673.3" y2="211.6"/><line x1="673.3" y1="205.4" x2="669.7" y2="211.6"/></g>
<g stroke="#111" stroke-width="1.25" stroke-linecap="round"><line x1="676.5" y1="208.5" x2="683.0999999999999" y2="208.5"/><line x1="678.0" y1="205.4" x2="681.5999999999999" y2="211.6"/><line x1="681.5999999999999" y1="205.4" x2="678.0" y2="211.6"/></g>
<rect x="560.1" y="218.1" width="7.9" height="9.9" fill="#6abd45"/>
<rect x="560.1" y="241.8" width="7.9" height="9" fill="#000"/>
<text x="574.23" y="226.4" font-size="9.3" fill="#6abd45" stroke="#6abd45" stroke-width="0.18">Gp<tspan stroke-width="0.08" font-size="6" dy="3.9">(Im+Re)</tspan></text>
<text x="574.23" y="249.8" font-size="9.3" fill="#111" stroke="#111" stroke-width="0.18">Gp<tspan stroke-width="0.08" font-size="6" dy="3.7">(Im)</tspan></text>
<text x="561.68" y="441.70" font-size="10" fill="#222"  stroke="#222" stroke-width="0.18">Exocytosis</text>
<text x="635.98" y="441.70" font-size="10" fill="#222"  stroke="#222" stroke-width="0.18">Endocytosis</text>
</svg>
</body></html>
